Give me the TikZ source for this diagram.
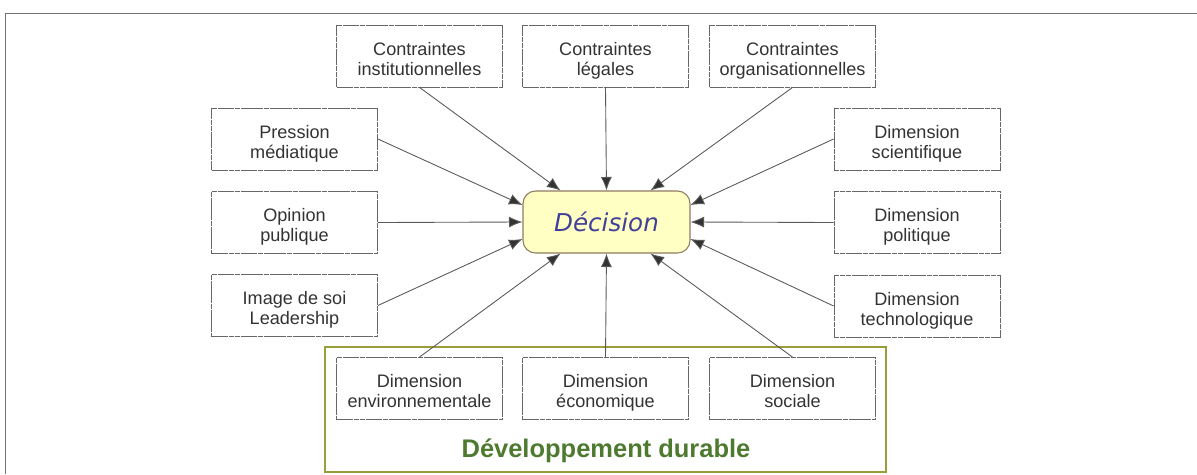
\documentclass[tikz,border=0pt]{standalone}
\usepackage{fontspec}
\setmainfont{Liberation Sans}
\newfontfamily\decfont{DejaVu Sans}
\usetikzlibrary{arrows.meta}
\definecolor{boxgray}{HTML}{666666}
\definecolor{decfill}{HTML}{FFFFC4}
\definecolor{decline}{HTML}{8C7B5E}
\definecolor{decblue}{HTML}{40409A}
\definecolor{ddgreen}{HTML}{4E7A30}
\definecolor{ddframe}{HTML}{9A9E3A}
% two centred lines, baseline on the first one
\newcommand{\lignes}[2]{\begin{tabular}[t]{@{}c@{}}#1\\#2\end{tabular}}
\tikzset{
  facteur/.style={draw=boxgray, dash pattern=on 3pt off 0.3pt, line width=0.5pt,
    fill=white, minimum width=3.32cm, minimum height=1.24cm, inner sep=0pt,
    text height=8pt, text depth=9.1pt,
    text=black!80, font=\fontsize{10.3}{11.5}\selectfont},
  decision/.style={draw=decline, line width=0.6pt, fill=decfill, rounded corners=0.25cm,
    minimum width=3.34cm, minimum height=1.24cm, text=decblue,
    font=\decfont\itshape\fontsize{14}{16}\selectfont},
  fleche/.style={draw=black!65, line width=0.5pt,
    -{Latex[length=2.7mm,width=2.2mm,fill=black!80]}},
}
\begin{document}
\begin{tikzpicture}[x=0.02cm, y=-0.02cm]
    \useasboundingbox (0,0) rectangle (1197,474);
    % outer frame
    \draw [color=black!55] (5,474) -- (5,13) -- (1197,13);
    % sustainable development frame
    \draw [color=ddframe, line width=0.6pt] (325,347) rectangle (886,472);
    \node [anchor=base, text=ddgreen, font=\bfseries\fontsize{14.5}{16}\selectfont] (dd) at (606,457) {Développement durable};
    % decision
    \node [decision] (dec) at (606.5,222) {Décision};
    % constraints
    \node [facteur] (inst) at (419.5,56) {\lignes{Contraintes}{institutionnelles}};
    \node [facteur] (leg) at (605.5,56) {\lignes{Contraintes}{légales}};
    \node [facteur] (org) at (792.5,56) {\lignes{Contraintes}{organisationnelles}};
    % left column
    \node [facteur] (pres) at (294.5,139) {\lignes{Pression}{médiatique}};
    \node [facteur] (opin) at (294.5,222.5) {\lignes{Opinion}{publique}};
    \node [facteur] (img) at (294.5,305.5) {\lignes{Image de soi}{Leadership}};
    % right column
    \node [facteur] (sci) at (917,139) {\lignes{Dimension}{scientifique}};
    \node [facteur] (pol) at (917,222.5) {\lignes{Dimension}{politique}};
    \node [facteur] (tech) at (917,306) {\lignes{Dimension}{technologique}};
    % bottom row
    \node [facteur] (env) at (419.5,388.5) {\lignes{Dimension}{environnementale}};
    \node [facteur] (eco) at (605.5,388.5) {\lignes{Dimension}{économique}};
    \node [facteur] (soc) at (792.5,388.5) {\lignes{Dimension}{sociale}};
    % arrows
    \draw [fleche] (inst.south) -- ([xshift=-0.92cm]dec.north);
    \draw [fleche] (leg.south) -- (dec.north);
    \draw [fleche] (org.south) -- ([xshift=0.88cm]dec.north);
    \draw [fleche] (pres.east) -- ([yshift=0.34cm]dec.west);
    \draw [fleche] (opin.east) -- (dec.west);
    \draw [fleche] (img.east) -- ([yshift=-0.34cm]dec.west);
    \draw [fleche] (sci.west) -- ([yshift=0.34cm]dec.east);
    \draw [fleche] (pol.west) -- (dec.east);
    \draw [fleche] (tech.west) -- ([yshift=-0.34cm]dec.east);
    \draw [fleche] (env.north) -- ([xshift=-0.92cm]dec.south);
    \draw [fleche] (eco.north) -- (dec.south);
    \draw [fleche] (soc.north) -- ([xshift=0.88cm]dec.south);
\end{tikzpicture}
\end{document}
